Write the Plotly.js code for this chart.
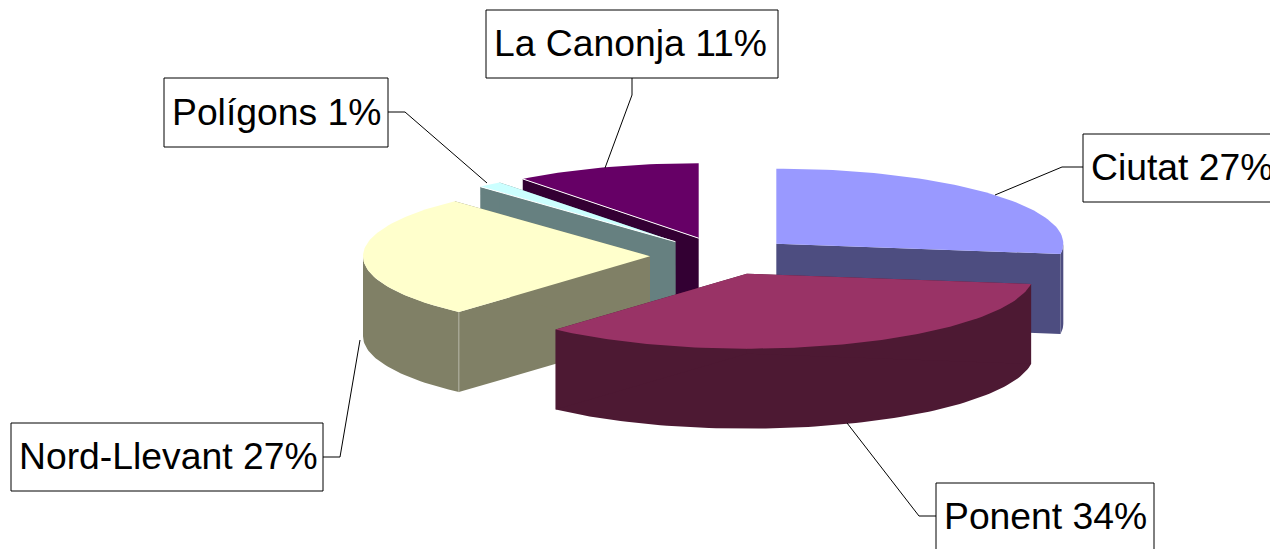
<!DOCTYPE html>
<html>
<head>
<meta charset="utf-8">
<script src="https://cdn.plot.ly/plotly-3.0.1.min.js"></script>
<style>html,body{margin:0;padding:0;background:#fff;overflow:hidden}#chart{width:1270px;height:549px}</style>
</head>
<body>
<div id="chart"></div>
<script>
// Data, in clockwise order from 12 o'clock
const categories = ["Ciutat", "Ponent", "Nord-Llevant", "Polígons", "La Canonja"];
const shares = [27.2, 34.4, 26.5, 1.4, 10.5];
const shownPercent = [27, 34, 27, 1, 11];

// Styles
const topColors = ["#9999FF", "#993366", "#FFFFCC", "#CCFFFF", "#660066"];
const sideColors = ["#4D4D80", "#4D1933", "#808066", "#668080", "#330033"];
const drawOrder = [4, 3, 0, 2, 1];

// Label layout: box left, right, top, bottom, then leader line
const boxLeft = [1083, 936, 11, 164, 486];
const boxRight = [1290, 1154, 323, 388, 778];
const boxTop = [134, 483, 423, 78, 10];
const boxBottom = [202, 551, 491, 147, 78];
const leaderX = [[995, 1062, 1083], [847, 919, 936], [360, 340, 323], [487, 405, 388], [605, 632, 632]];
const leaderY = [[195, 167, 167], [423, 516, 516], [340, 457, 457], [183, 112, 112], [168, 95, 78]];

// Projection of the tilted pie
const cx = 722, cy = 256, rx = 287, ry = 75, depth = 80, explode = 72;
const total = shares.reduce((a, b) => a + b, 0);

function addFace(xs, ys, color, name) {
  traces.push({
    x: xs, y: ys, mode: "lines", fill: "toself", fillcolor: color,
    line: {width: 0, color: color}, name: name,
    hoverinfo: name ? "name" : "skip", showlegend: false
  });
}
function addSeam(xs, ys, color) {
  traces.push({
    x: xs, y: ys, mode: "lines", line: {width: 1, color: color},
    hoverinfo: "skip", showlegend: false
  });
}
function arc(ax, ay, a0, a1) {
  const xs = [], ys = [];
  const steps = Math.max(4, Math.ceil((a1 - a0) * 40));
  for (let i = 0; i <= steps; i++) {
    const t = a0 + (a1 - a0) * i / steps;
    xs.push(ax + rx * Math.sin(t));
    ys.push(ay - ry * Math.cos(t));
  }
  return {xs, ys};
}

const traces = [];
let run = 0;
const wedges = shares.map(v => {
  const a0 = run / total * 2 * Math.PI;
  run += v;
  const a1 = run / total * 2 * Math.PI;
  const mid = (a0 + a1) / 2;
  const ax = cx + explode * Math.sin(mid);
  const ay = cy - explode * Math.cos(mid) * ry / rx;
  return {ax, ay, a0, a1, top: arc(ax, ay, a0, a1)};
});

drawOrder.forEach(i => {
  const w = wedges[i];
  const n = w.top.xs.length - 1;
  const d = depth;
  // outer rim: only the part that faces the viewer
  const r0 = Math.max(w.a0, Math.PI / 2), r1 = Math.min(w.a1, 3 * Math.PI / 2);
  if (r1 > r0) {
    const rim = arc(w.ax, w.ay, r0, r1);
    addFace([...rim.xs, ...rim.xs.slice().reverse(), rim.xs[0]],
            [...rim.ys, ...rim.ys.slice().reverse().map(y => y + d), rim.ys[0]], sideColors[i]);
  }
  // the two cut faces
  addFace([w.ax, w.top.xs[0], w.top.xs[0], w.ax, w.ax],
          [w.ay, w.top.ys[0], w.top.ys[0] + d, w.ay + d, w.ay], sideColors[i]);
  addFace([w.ax, w.top.xs[n], w.top.xs[n], w.ax, w.ax],
          [w.ay, w.top.ys[n], w.top.ys[n] + d, w.ay + d, w.ay], sideColors[i]);
  // top
  addFace([w.ax, ...w.top.xs, w.ax], [w.ay, ...w.top.ys, w.ay], topColors[i], categories[i]);
  // thin highlights the source draws along some edges
  if (i === 4 || i === 3) addSeam([w.top.xs[0], w.ax], [w.top.ys[0], w.ay], "#FFFFFF");
  if (i === 2) addSeam([w.top.xs[0], w.top.xs[0]], [w.top.ys[0], w.top.ys[0] + d], "#B3B3A3");
});

categories.forEach((c, i) => {
  traces.push({
    x: leaderX[i], y: leaderY[i], mode: "lines",
    line: {color: "#000000", width: 1}, hoverinfo: "skip", showlegend: false
  });
});

const shapes = categories.map((c, i) => ({
  type: "rect", xref: "x", yref: "y",
  x0: boxLeft[i], x1: boxRight[i], y0: boxTop[i], y1: boxBottom[i],
  line: {color: "#000000", width: 1}, fillcolor: "#FFFFFF", layer: "above"
}));

const annotations = categories.map((c, i) => ({
  xref: "x", yref: "y", x: boxLeft[i] + 6, y: (boxTop[i] + boxBottom[i]) / 2 - 1,
  xanchor: "left", yanchor: "middle", showarrow: false, align: "left",
  text: c + " " + shownPercent[i] + "%",
  font: {family: "Liberation Sans, Arial, sans-serif", size: 37.3, color: "#000000"}
}));

const layout = {
  width: 1270, height: 549,
  margin: {l: 0, r: 0, t: 0, b: 0},
  paper_bgcolor: "#FFFFFF", plot_bgcolor: "#FFFFFF",
  xaxis: {range: [0, 1270], visible: false, fixedrange: true},
  yaxis: {range: [549, 0], visible: false, fixedrange: true},
  shapes, annotations, showlegend: false
};
Plotly.newPlot("chart", traces, layout, {displayModeBar: false, staticPlot: true});
</script>
</body>
</html>
